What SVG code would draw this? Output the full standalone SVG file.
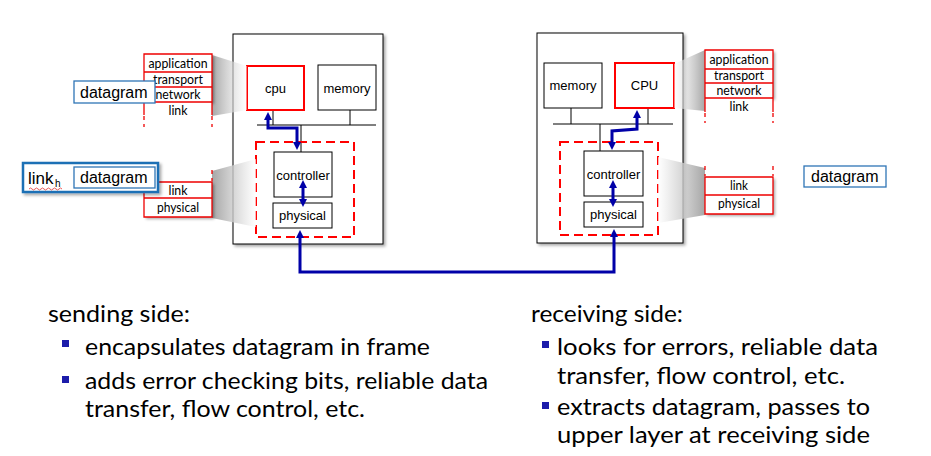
<svg xmlns="http://www.w3.org/2000/svg" width="931" height="456" viewBox="0 0 931 456">
<style>
.host{fill:#fff;stroke:#000;stroke-width:1}
.box{fill:#fff;stroke:#000;stroke-width:1}
.cpu{fill:#fff;stroke:#f00;stroke-width:2}
.nic{fill:none;stroke:#f00;stroke-width:2;stroke-dasharray:9 5}
.bus{stroke:#000;stroke-width:1;fill:none}
.red{stroke:#e00;stroke-width:1.3;fill:none}
.reddash{stroke:#e00;stroke-width:1.3;fill:none;stroke-dasharray:4 4}
.lbl{font-family:"Liberation Sans",Arial,sans-serif;font-size:13px;fill:#000;text-anchor:middle}
.st{font-family:Lato,"Liberation Sans",sans-serif;font-size:12.5px;fill:#000;text-anchor:middle}
.dg{font-family:"Liberation Sans",Arial,sans-serif;font-size:16px;fill:#000}
.dgbox{fill:#fff;stroke:#2e75b6;stroke-width:1.3}
.frame{fill:#fff;stroke:#1f6fb5;stroke-width:2.5}
.body{font-family:Lato,"Liberation Sans",sans-serif;font-size:23.5px;fill:#000}
.bul{fill:#1c1caa}
.arr{stroke:#0000a8;stroke-width:3;fill:none;marker-start:url(#ah);marker-end:url(#ah)}
</style>
<defs>
<marker id="ah" viewBox="0 0 10 10" refX="0" refY="5" markerWidth="9" markerHeight="8" markerUnits="userSpaceOnUse" orient="auto-start-reverse">
<path d="M0,0 L10,5 L0,10 z" fill="#0000a8"/>
</marker>
<filter id="sh" x="-20%" y="-20%" width="150%" height="150%">
<feDropShadow dx="2" dy="2" stdDeviation="1.6" flood-color="#000" flood-opacity="0.35"/>
</filter>
<linearGradient id="gL1" gradientUnits="userSpaceOnUse" x1="212" y1="0" x2="247" y2="0">
<stop offset="0" stop-color="#9c9c9c" stop-opacity="0.9"/>
<stop offset="1" stop-color="#ffffff" stop-opacity="0.5"/>
</linearGradient>
<linearGradient id="gL2" gradientUnits="userSpaceOnUse" x1="212" y1="0" x2="256" y2="0">
<stop offset="0" stop-color="#9c9c9c" stop-opacity="0.9"/>
<stop offset="1" stop-color="#ffffff" stop-opacity="0.7"/>
</linearGradient>
<linearGradient id="gR1" gradientUnits="userSpaceOnUse" x1="705" y1="0" x2="674" y2="0">
<stop offset="0" stop-color="#9c9c9c" stop-opacity="0.9"/>
<stop offset="1" stop-color="#ffffff" stop-opacity="0.5"/>
</linearGradient>
<linearGradient id="gR2" gradientUnits="userSpaceOnUse" x1="705" y1="0" x2="658" y2="0">
<stop offset="0" stop-color="#9c9c9c" stop-opacity="0.9"/>
<stop offset="1" stop-color="#ffffff" stop-opacity="0.7"/>
</linearGradient>
</defs>
<rect width="931" height="456" fill="#fff"/>

<!-- sending host -->
<g id="host-send">
<rect class="host" x="233" y="34" width="150" height="210" filter="url(#sh)"/>
<line class="bus" x1="257" y1="125" x2="376" y2="125"/>
<line class="bus" x1="273" y1="110" x2="273" y2="125"/>
<line class="bus" x1="350" y1="110" x2="350" y2="125"/>
<line class="bus" x1="301" y1="125" x2="301" y2="152"/>
</g>
<g id="cpu-send">
<rect class="cpu" x="247" y="66" width="57" height="44"/>
<text class="lbl" x="275.5" y="93">cpu</text>
</g>
<g id="memory-send">
<rect class="box" x="318" y="65" width="58" height="45"/>
<text class="lbl" x="347" y="93">memory</text>
</g>
<g id="nic-send">
<rect class="nic" x="256" y="142" width="98" height="95"/>
</g>
<g id="controller-send">
<rect class="box" x="274" y="152" width="58" height="45"/>
<text class="lbl" x="303" y="180">controller</text>
</g>
<g id="physical-send">
<rect class="box" x="273" y="203" width="59" height="25"/>
<text class="lbl" x="302.5" y="220">physical</text>
</g>

<!-- receiving host -->
<g id="host-recv">
<rect class="host" x="537" y="33" width="146" height="210" filter="url(#sh)"/>
<line class="bus" x1="553" y1="124" x2="673" y2="124"/>
<line class="bus" x1="571" y1="108" x2="571" y2="124"/>
<line class="bus" x1="648" y1="108" x2="648" y2="124"/>
<line class="bus" x1="600" y1="124" x2="600" y2="151"/>
</g>
<g id="memory-recv">
<rect class="box" x="544" y="63" width="58" height="45"/>
<text class="lbl" x="573" y="90">memory</text>
</g>
<g id="cpu-recv">
<rect class="cpu" x="615" y="63" width="59" height="45"/>
<text class="lbl" x="644.5" y="90">CPU</text>
</g>
<g id="nic-recv">
<rect class="nic" x="560" y="142" width="98" height="93"/>
</g>
<g id="controller-recv">
<rect class="box" x="584" y="151" width="59" height="45"/>
<text class="lbl" x="613.5" y="179">controller</text>
</g>
<g id="physical-recv">
<rect class="box" x="584" y="202" width="59" height="25"/>
<text class="lbl" x="613.5" y="219">physical</text>
</g>

<!-- zoom wedges -->
<g id="wedges">
<polygon points="212,55 247,66 247,110 212,116" fill="url(#gL1)"/>
<polygon points="212,171 256,159 256,227 212,218" fill="url(#gL2)"/>
<polygon points="705,50 674,64 674,108 705,111" fill="url(#gR1)"/>
<polygon points="705,168 658,157 658,223 705,215" fill="url(#gR2)"/>
</g>

<!-- sending protocol stack (upper) -->
<g id="stack-send-upper">
<rect x="144" y="54" width="68" height="48" fill="#fff" filter="url(#sh)"/>
<rect x="144" y="102" width="68" height="13" fill="#fff"/>
<path class="red" d="M144,115 L144,54 L212,54 L212,115 M144,72 H212 M144,87 H212 M144,102 H212"/>
<path class="reddash" d="M144,116 V127 M212,116 V127"/>
<text class="st" x="178" y="67.5" textLength="59" lengthAdjust="spacingAndGlyphs">application</text>
<text class="st" x="178" y="84" textLength="50" lengthAdjust="spacingAndGlyphs">transport</text>
<text class="st" x="178" y="99" textLength="45" lengthAdjust="spacingAndGlyphs">network</text>
<text class="st" x="178" y="115" textLength="19" lengthAdjust="spacingAndGlyphs">link</text>
</g>
<g id="datagram-send">
<rect class="dgbox" x="74" y="81" width="81" height="22"/>
<text class="dg" x="80" y="98">datagram</text>
</g>

<!-- sending protocol stack (lower) -->
<g id="stack-send-lower">
<rect x="144" y="182" width="68" height="35" fill="#fff" filter="url(#sh)"/>
<path class="red" d="M144,182 H212 V217 H144 Z M144,198 H212"/>
<path class="reddash" d="M144,170 V181 M212,170 V181"/>
<text class="st" x="178" y="194.5" textLength="19" lengthAdjust="spacingAndGlyphs">link</text>
<text class="st" x="178" y="211.5" textLength="42" lengthAdjust="spacingAndGlyphs">physical</text>
</g>
<g id="frame-send">
<rect class="frame" x="23" y="163" width="135" height="29" filter="url(#sh)"/>
<rect class="dgbox" x="74" y="167" width="81" height="21"/>
<text class="dg" x="28" y="184" style="font-size:17px">link</text>
<text class="dg" x="55" y="187" style="font-size:10px">h</text>
<path d="M29,189 q1.5,-2 3,0 t3,0 t3,0 t3,0 t3,0 t3,0 t3,0 t3,0 t3,0 t3,0 t3,0" fill="none" stroke="#e03030" stroke-width="0.8"/>
<text class="dg" x="80" y="183">datagram</text>
</g>

<!-- receiving protocol stack (upper) -->
<g id="stack-recv-upper">
<rect x="705" y="50" width="68" height="48" fill="#fff" filter="url(#sh)"/>
<rect x="705" y="98" width="68" height="14" fill="#fff"/>
<path class="red" d="M705,112 L705,50 L773,50 L773,112 M705,69 H773 M705,83 H773 M705,98 H773"/>
<path class="reddash" d="M705,113 V123 M773,113 V123"/>
<text class="st" x="739" y="63.5" textLength="59" lengthAdjust="spacingAndGlyphs">application</text>
<text class="st" x="739" y="80" textLength="50" lengthAdjust="spacingAndGlyphs">transport</text>
<text class="st" x="739" y="95" textLength="45" lengthAdjust="spacingAndGlyphs">network</text>
<text class="st" x="739" y="111" textLength="19" lengthAdjust="spacingAndGlyphs">link</text>
</g>

<!-- receiving protocol stack (lower) -->
<g id="stack-recv-lower">
<rect x="705" y="177" width="68" height="37" fill="#fff" filter="url(#sh)"/>
<path class="red" d="M705,177 H773 V214 H705 Z M705,195 H773"/>
<path class="reddash" d="M705,166 V176 M773,166 V176"/>
<text class="st" x="739" y="190" textLength="18" lengthAdjust="spacingAndGlyphs">link</text>
<text class="st" x="739" y="207.5" textLength="42" lengthAdjust="spacingAndGlyphs">physical</text>
</g>
<g id="datagram-recv">
<rect class="dgbox" x="804" y="166" width="82" height="21"/>
<text class="dg" x="811" y="182">datagram</text>
</g>

<!-- connectors -->
<g id="connectors">
<path class="arr" d="M268,120 L268,128 L297,128 L297,142"/>
<path class="arr" d="M303,188 L303,199"/>
<path class="arr" d="M300,238 L300,272 L614,272 L614,237"/>
<path class="arr" d="M612,142 L612,131 L637,129 L637,118"/>
<path class="arr" d="M613,188 L613,199"/>
</g>

<!-- sending side text -->
<g id="text-sending">
<text class="body" x="48" y="322" textLength="142" lengthAdjust="spacingAndGlyphs">sending side:</text>
<rect class="bul" x="62" y="340" width="7" height="7"/>
<text class="body" x="85" y="355" textLength="345" lengthAdjust="spacingAndGlyphs">encapsulates datagram in frame</text>
<rect class="bul" x="62" y="376" width="7" height="7"/>
<text class="body" x="85" y="389" textLength="403" lengthAdjust="spacingAndGlyphs">adds error checking bits, reliable data</text>
<text class="body" x="85" y="417" textLength="280" lengthAdjust="spacingAndGlyphs">transfer, flow control, etc.</text>
</g>

<!-- receiving side text -->
<g id="text-receiving">
<text class="body" x="531" y="322" textLength="152" lengthAdjust="spacingAndGlyphs">receiving side:</text>
<rect class="bul" x="542" y="341" width="7" height="7"/>
<text class="body" x="557" y="355" textLength="321" lengthAdjust="spacingAndGlyphs">looks for errors, reliable data</text>
<text class="body" x="557" y="384" textLength="288" lengthAdjust="spacingAndGlyphs">transfer, flow control, etc.</text>
<rect class="bul" x="542" y="402" width="7" height="7"/>
<text class="body" x="557" y="415" textLength="313" lengthAdjust="spacingAndGlyphs">extracts datagram, passes to</text>
<text class="body" x="557" y="443" textLength="313" lengthAdjust="spacingAndGlyphs">upper layer at receiving side</text>
</g>
</svg>
